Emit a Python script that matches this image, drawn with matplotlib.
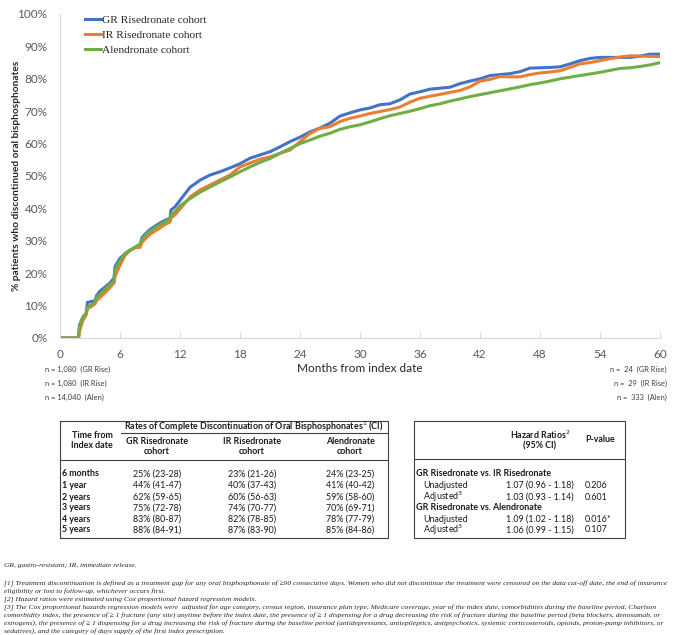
import matplotlib
matplotlib.use("Agg")
import matplotlib.pyplot as plt
from matplotlib.ticker import FuncFormatter

# ---------------- data ----------------
months = [0, 1.85, 1.95, 2.3, 2.6, 2.75, 3.5, 3.65, 4.0, 4.5, 5.0, 5.4, 5.5, 6.0, 6.5, 7.0,
          7.5, 8.0, 8.2, 8.5, 9.0, 9.5, 10.0, 10.5, 11.0, 11.1, 11.5, 12,
          13, 14, 15, 16, 17, 18, 19, 20, 21, 22, 23, 24, 25, 26, 27, 28, 29, 30,
          31, 32, 33, 34, 35, 36, 37, 38, 39, 40, 41, 42, 43, 44, 45, 46, 47, 48,
          49, 50, 51, 52, 53, 54, 55, 56, 57, 58, 59, 60]

gr_rise = [0, 0, 4, 6.5, 7.5, 11, 11.5, 13, 14.5, 15.7, 17, 18.5, 22, 24.6, 26, 27,
           28, 28.7, 31, 32, 33.5, 34.5, 35.5, 36.3, 37, 39.5, 40.5, 42.5,
           46.5, 48.7, 50.3, 51.3, 52.5, 53.8, 55.5, 56.5, 57.5, 59, 60.6, 62, 63.6, 64.8, 66.3, 68.5, 69.5, 70.4,
           71, 72, 72.3, 73.5, 75.3, 76, 76.8, 77.1, 77.4, 78.5, 79.3, 80, 81, 81.3, 81.6, 82.2, 83.3, 83.4,
           83.5, 83.7, 84.6, 85.6, 86.3, 86.6, 86.6, 86.6, 86.6, 87, 87.6, 87.6]

ir_rise = [0, 0, 2, 5.5, 7, 9, 10.5, 11.5, 12.5, 14, 15.5, 17, 19, 22.5, 25.5, 27,
           27.8, 28, 29.5, 30.5, 32, 33, 34, 35, 35.8, 37, 38, 39.8,
           43.5, 45.7, 47.2, 48.8, 50.3, 52.8, 54, 55.2, 55.9, 57, 58, 60.6, 63.1, 64.7, 65.2, 66.8, 67.8, 68.5,
           69.3, 69.9, 70.5, 71.3, 72.8, 74, 74.6, 75.2, 75.8, 76.4, 77.5, 79.3, 79.8, 80.7, 80.6, 80.6, 81.3, 81.8,
           82.1, 82.5, 83.5, 84.6, 85, 85.6, 86.2, 86.7, 87.1, 87, 86.9, 86.9]

alen = [0, 0, 3.5, 6.5, 7.5, 9.5, 11, 12.5, 13.5, 15, 16.5, 17.5, 21, 23.8, 26, 27.2,
        28, 29, 30.5, 31.5, 33, 34, 35, 35.8, 36.8, 38, 39, 40.8,
        43, 45, 46.6, 48.2, 49.7, 51.3, 52.8, 54.2, 55.4, 57, 58.5, 60, 61.1, 62.3, 63.2, 64.4, 65.2, 65.8,
        66.7, 67.7, 68.6, 69.3, 70, 70.8, 71.7, 72.3, 73.1, 73.8, 74.5, 75.1, 75.7, 76.3, 76.9, 77.5, 78.2, 78.7,
        79.3, 80, 80.5, 81, 81.5, 82, 82.6, 83.2, 83.4, 83.8, 84.3, 85]

series_labels = ["GR Risedronate cohort", "IR Risedronate cohort", "Alendronate cohort"]
series_colors = ["#4472C4", "#ED7D31", "#70AD47"]

x_ticks = [0, 6, 12, 18, 24, 30, 36, 42, 48, 54, 60]
y_ticks = [0, 10, 20, 30, 40, 50, 60, 70, 80, 90, 100]

n_start = ["n = 1,080  (GR Rise)", "n = 1,080  (IR Rise)", "n = 14,040  (Alen)"]
n_end = ["n =  24  (GR Rise)", "n =  29  (IR Rise)", "n =  333  (Alen)"]

t1_times = ["6 months", "1 year", "2 years", "3 years", "4 years", "5 years"]
t1_gr = ["25% (23-28)", "44% (41-47)", "62% (59-65)", "75% (72-78)", "83% (80-87)", "88% (84-91)"]
t1_ir = ["23% (21-26)", "40% (37-43)", "60% (56-63)", "74% (70-77)", "82% (78-85)", "87% (83-90)"]
t1_alen = ["24% (23-25)", "41% (40-42)", "59% (58-60)", "70% (69-71)", "78% (77-79)", "85% (84-86)"]

t2_sections = ["GR Risedronate vs. IR Risedronate", "GR Risedronate vs. Alendronate"]
t2_rows = ["Unadjusted", "Adjusted$^3$"]
t2_hr = [["1.07 (0.96 - 1.18)", "1.03 (0.93 - 1.14)"], ["1.09 (1.02 - 1.18)", "1.06 (0.99 - 1.15)"]]
t2_p = [["0.206", "0.601"], ["0.016*", "0.107"]]

footnotes = [
    "GR, gastro-resistant; IR, immediate release.",
    "",
    "[1] Treatment discontinuation is defined as a treatment gap for any oral bisphosphonate of \u226590 consecutive days. Women who did not discontinue the treatment were censored on the data cut-off date, the end of insurance",
    "eligibility or lost to follow-up, whichever occurs first.",
    "[2] Hazard ratios were estimated using Cox proportional hazard regression models.",
    "[3] The Cox proportional hazards regression models were  adjusted for age category, census region, insurance plan type, Medicare coverage, year of the index date, comorbidities during the baseline period, Charlson",
    "comorbidity index, the presence of \u2265 1 fracture (any site) anytime before the index date, the presence of \u2265 1 dispensing for a drug decreasing the risk of fracture during the baseline period (beta blockers, denosumab, or",
    "estrogens), the presence of \u2265 1 dispensing for a drug increasing the risk of fracture during the baseline period (antidepressants, antiepileptics, antipsychotics, systemic corticosteroids, opioids, proton-pump inhibitors, or",
    "sedatives), and the category of days supply of the first index prescription.",
]

# ---------------- figure ----------------
W, H = 677, 635
fig = plt.figure(figsize=(W / 100, H / 100), dpi=100)
SANS = "Lato"
SERIF = "Liberation Serif"
GRAY = "#595959"

# overlay in pixel coordinates
ov = fig.add_axes([0, 0, 1, 1])
ov.set_xlim(0, W)
ov.set_ylim(H, 0)
ov.axis("off")
ov.patch.set_alpha(0)

# chart axes
x0, x1, ytop, ybot = 60, 660, 14, 338
ax = fig.add_axes([x0 / W, (H - ybot) / H, (x1 - x0) / W, (ybot - ytop) / H])
ax.patch.set_alpha(0)
for vals, lab, col in zip([gr_rise, ir_rise, alen], series_labels, series_colors):
    ax.plot(months, vals, color=col, lw=2.2, label=lab, solid_joinstyle="miter")
ax.set_xlim(0, 60)
ax.set_ylim(0, 100)
ax.set_xticks(x_ticks)
ax.set_yticks(y_ticks)
ax.yaxis.set_major_formatter(FuncFormatter(lambda v, p: f"{int(v)}%"))
for s in ["top", "right"]:
    ax.spines[s].set_visible(False)
ax.spines["left"].set_color("#D9D9D9")
ax.spines["bottom"].set_color("#D9D9D9")
ax.tick_params(axis="x", direction="in", length=4, color="#D9D9D9", pad=8,
               labelsize=8.5, labelcolor=GRAY)
ax.tick_params(axis="y", length=0, pad=9, labelsize=8.5, labelcolor=GRAY)
for t in ax.get_xticklabels() + ax.get_yticklabels():
    t.set_fontfamily(SANS)

leg = ax.legend(loc="upper left", bbox_to_anchor=(0.042, 0.997), frameon=False,
                borderpad=0, borderaxespad=0, handlelength=1.4, handletextpad=0.1,
                labelspacing=0.45, prop={"family": SERIF, "size": 8.2})
for t in leg.get_texts():
    t.set_color("#262626")

# axis titles
ov.text(360, 368, "Months from index date", ha="center", va="center",
        fontsize=8.5, family=SANS, color="#262626")
ov.text(17, 176, "% patients who discontinued oral bisphosphonates", ha="center", va="center",
        rotation=90, fontsize=7.3, family=SANS, weight="bold", color="#262626")

# n at risk
for i, (a, b) in enumerate(zip(n_start, n_end)):
    y = 369 + i * 14.2
    ov.text(45, y, a, ha="left", va="center", fontsize=5.4, family=SANS, color="#404040")
    ov.text(667, y, b, ha="right", va="center", fontsize=5.4, family=SANS, color="#404040")

# ---------------- table 1 ----------------
LC = "#404040"
TC = "#1a1a1a"
tl, tr, tt, tb = 60, 388, 421, 538
ov.plot([tl, tr, tr, tl, tl], [tt, tt, tb, tb, tt], color=LC, lw=0.8)
ov.plot([tl, tr], [460, 460], color=LC, lw=0.8)
ov.plot([121, tr], [433, 433], color=LC, lw=0.8)
FS = 6.4
ov.text(92, 435, "Time from", ha="center", va="center", fontsize=FS, family=SANS, weight="bold", color=TC)
ov.text(92, 446, "Index date", ha="center", va="center", fontsize=FS, family=SANS, weight="bold", color=TC)
ov.text(254, 427, "Rates of Complete Discontinuation of Oral Bisphosphonates$^1$ (CI)",
        ha="center", va="center", fontsize=FS, family=SANS, weight="bold", color=TC)
col_x = [157, 252, 350]
col_head = ["GR Risedronate", "IR Risedronate", "Alendronate"]
for cx, hd in zip(col_x, col_head):
    ov.text(cx, 441, hd, ha="center", va="center", fontsize=FS, family=SANS, weight="bold", color=TC)
    ov.text(cx, 452, "cohort", ha="center", va="center", fontsize=FS, family=SANS, weight="bold", color=TC)
row_y = [474, 485.5, 497, 508, 519, 530]
for i, y in enumerate(row_y):
    ov.text(62, y, t1_times[i], ha="left", va="center", fontsize=FS, family=SANS, weight="bold", color=TC)
    for cx, col in zip(col_x, [t1_gr, t1_ir, t1_alen]):
        ov.text(cx, y, col[i], ha="center", va="center", fontsize=FS, family=SANS, color=TC)

# ---------------- table 2 ----------------
ul, ur = 414, 625
ov.plot([ul, ur, ur, ul, ul], [tt, tt, tb, tb, tt], color=LC, lw=0.8)
ov.plot([ul, ur], [459, 459], color=LC, lw=0.8)
ov.text(540, 435, "Hazard Ratios$^2$", ha="center", va="center", fontsize=FS, family=SANS, weight="bold", color=TC)
ov.text(540, 446, "(95% CI)", ha="center", va="center", fontsize=FS, family=SANS, weight="bold", color=TC)
ov.text(600, 440, "P-value", ha="center", va="center", fontsize=FS, family=SANS, weight="bold", color=TC)
sec_y = [row_y[0], row_y[3]]
for s, sy in enumerate(sec_y):
    ov.text(416, sy, t2_sections[s], ha="left", va="center", fontsize=FS, family=SANS, weight="bold", color=TC)
    for r in range(2):
        y = row_y[3 * s + r + 1]
        ov.text(423, y, t2_rows[r], ha="left", va="center", fontsize=FS, family=SANS, color=TC)
        ov.text(540, y, t2_hr[s][r], ha="center", va="center", fontsize=FS, family=SANS, color=TC)
        ov.text(585, y, t2_p[s][r], ha="left", va="center", fontsize=FS, family=SANS, color=TC)

# ---------------- footnotes ----------------
fy = [566, 575, 583.5, 591.5, 599.5, 607.5, 615.5, 623.5, 631.5]
for y, line in zip(fy, footnotes):
    if line:
        ov.text(4, y, line, ha="left", va="center", fontsize=5.4, family=SERIF,
                style="italic", color="#262626")

fig.savefig("out.png", dpi=100)
